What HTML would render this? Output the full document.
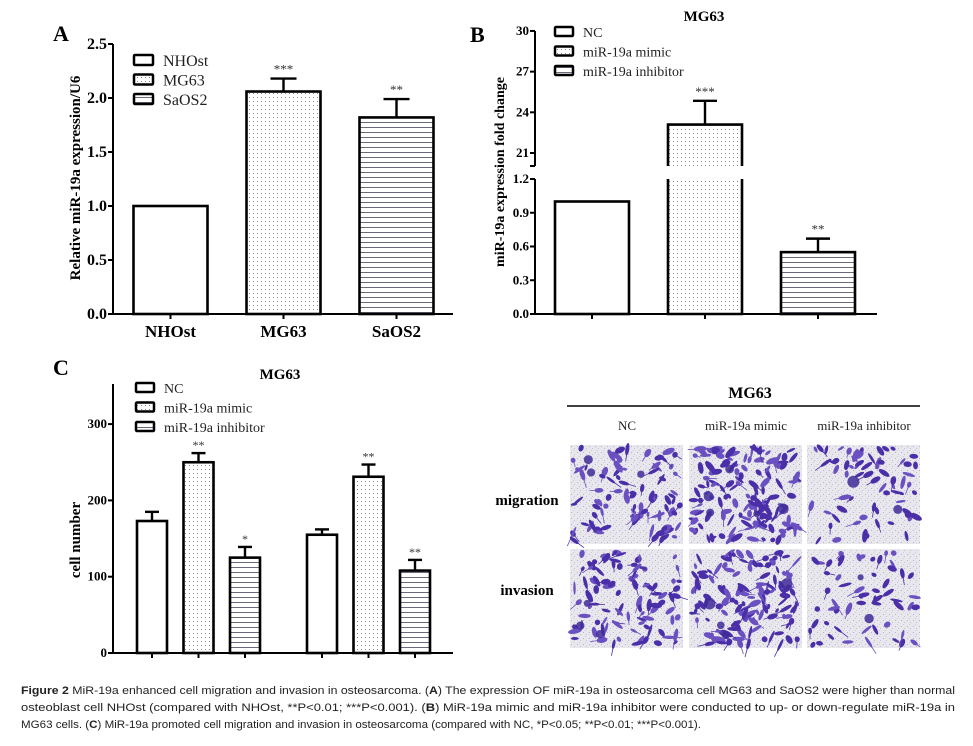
<!DOCTYPE html>
<html><head><meta charset="utf-8"><style>
html,body{margin:0;padding:0;background:#fff;}
svg{display:block;font-family:"Liberation Serif",serif;}
</style></head><body>
<svg id="fig" width="973" height="746" viewBox="0 0 973 746" xmlns="http://www.w3.org/2000/svg">
<defs>
<pattern id="dots" width="4" height="4" patternUnits="userSpaceOnUse"><rect width="4" height="4" fill="#fff"/><rect x="1" y="1" width="1" height="1" fill="#8a8a8a"/></pattern>
<pattern id="hlines" width="4" height="5" patternUnits="userSpaceOnUse"><rect width="4" height="5" fill="#fff"/><rect x="0" y="2" width="4" height="1" fill="#6a6a7a"/></pattern>
<pattern id="speck" width="6" height="6" patternUnits="userSpaceOnUse"><rect width="6" height="6" fill="#e9e7ee"/><rect x="1" y="2" width="1" height="1" fill="#b8b4c4"/><rect x="4" y="4" width="1" height="1" fill="#c4c0ce"/><rect x="3" y="0" width="1" height="1" fill="#cfcbd8"/></pattern>
</defs>
<g id="gA"></g>
<g id="gB"></g>
<g id="gC"></g>
<g id="gImg"></g>
<g font-family="'Liberation Sans',sans-serif" font-size="11" fill="#222">
<text x="21" y="694" textLength="934" lengthAdjust="spacingAndGlyphs"><tspan font-weight="bold">Figure 2</tspan> MiR-19a enhanced cell migration and invasion in osteosarcoma. (<tspan font-weight="bold">A</tspan>) The expression OF miR-19a in osteosarcoma cell MG63 and SaOS2 were higher than normal</text>
<text x="21" y="711" textLength="934" lengthAdjust="spacingAndGlyphs">osteoblast cell NHOst (compared with NHOst, **P&lt;0.01; ***P&lt;0.001). (<tspan font-weight="bold">B</tspan>) MiR-19a mimic and miR-19a inhibitor were conducted to up- or down-regulate miR-19a in</text>
<text x="21" y="728" textLength="680" lengthAdjust="spacingAndGlyphs">MG63 cells. (<tspan font-weight="bold">C</tspan>) MiR-19a promoted cell migration and invasion in osteosarcoma (compared with NC, *P&lt;0.05; **P&lt;0.01; ***P&lt;0.001).</text>
</g>
</svg>
<script>
// ---- Panel A data ----
const aCategories = ["NHOst","MG63","SaOS2"];
const aValues = [1.0, 2.06, 1.82];
const aErrors = [0, 0.12, 0.17];
const aStars = ["", "***", "**"];
const aTicks = [0,0.5,1.0,1.5,2.0,2.5];
// ---- Panel B data ----
const bCategories = ["NC","miR-19a mimic","miR-19a inhibitor"];
const bValues = [1.0, 23.1, 0.55];
const bErrors = [0, 1.75, 0.12];
const bStars = ["", "***", "**"];
const bTicksLow = [0,0.3,0.6,0.9,1.2];
const bTicksHigh = [21,24,27,30];
// ---- Panel C data ----
const cGroups = ["migration","invasion"];
const cSeries = ["NC","miR-19a mimic","miR-19a inhibitor"];
const cNC = [173, 155];
const cMimic = [250, 231];
const cInhib = [125, 108];
const cErrNC = [12, 7];
const cErrMimic = [12, 16];
const cErrInhib = [14, 14];
const cStarsMimic = ["**","**"];
const cStarsInhib = ["*","**"];
const cStarsNC = ["",""];
const cTicks = [0,100,200,300];

const NS="http://www.w3.org/2000/svg";
const SW=2.6, EW=2.4;
function mk(parent,tag,attrs,txt){const e=document.createElementNS(NS,tag);for(const k in attrs)e.setAttribute(k,attrs[k]);if(txt!==undefined)e.textContent=txt;parent.appendChild(e);return e;}
const fills=["#fff","url(#dots)","url(#hlines)"];

// ---------- Panel A ----------
(function(){
const g=document.getElementById('gA');
const yA=v=>314-v*108;
const xA=i=>170.5+i*113;
let t=mk(g,'text',{x:53,y:41,'font-size':22,'font-weight':'bold'},'A');


let ax=mk(g,'path',{d:'M113 44 V314 H453',stroke:'#000','stroke-width':2,fill:'none'});


aTicks.forEach(v=>{
 mk(g,'line',{x1:108,x2:113,y1:yA(v),y2:yA(v),stroke:'#000','stroke-width':2});
 let l=mk(g,'text',{x:107,y:yA(v)+5,'text-anchor':'end','font-size':16,'font-weight':'bold'},v.toFixed(1));
 
 
});
let yt=mk(g,'text',{transform:'translate(80,178) rotate(-90)','text-anchor':'middle','font-size':15,'font-weight':'bold'},'Relative miR-19a expression/U6');


aCategories.forEach((c,i)=>{
 const cx=xA(i);
 mk(g,'line',{x1:cx,x2:cx,y1:314,y2:319,stroke:'#000','stroke-width':2});
 let xl=mk(g,'text',{x:cx,y:337,'text-anchor':'middle','font-size':17,'font-weight':'bold'},c);
 
 
 if(aErrors[i]>0){
  mk(g,'line',{x1:cx,x2:cx,y1:yA(aValues[i]),y2:yA(aValues[i]+aErrors[i]),stroke:'#000','stroke-width':EW});
  mk(g,'line',{x1:cx-13,x2:cx+13,y1:yA(aValues[i]+aErrors[i]),y2:yA(aValues[i]+aErrors[i]),stroke:'#000','stroke-width':EW});
 }
 let b=mk(g,'rect',{x:cx-37,y:yA(aValues[i]),width:74,height:314-yA(aValues[i]),fill:fills[i],stroke:'#000','stroke-width':SW});
 
 
 if(aStars[i]){let s=mk(g,'text',{x:cx,y:yA(aValues[i]+aErrors[i])-5,'text-anchor':'middle','font-size':13,fill:'#333'},aStars[i]);
 
 }
 let lb=mk(g,'rect',{x:134,y:55+i*19.5,width:19,height:10,fill:fills[i],stroke:'#000','stroke-width':2.5,rx:1});
 
 
 let lt=mk(g,'text',{x:163,y:66+i*19.5,'font-size':16,fill:'#222'},c);
 
 
});
})();

// ---------- Panel B ----------
(function(){
const g=document.getElementById('gB');
const yL=v=>314-v*112.5;
const yU=v=>153-(v-21)*13.56;
const xB=i=>592+i*113;
let t=mk(g,'text',{x:470,y:42,'font-size':22,'font-weight':'bold'},'B');


let ttl=mk(g,'text',{x:704,y:21,'text-anchor':'middle','font-size':15,'font-weight':'bold'},'MG63');


let ax=mk(g,'path',{d:'M535 31 V166 M530 166 H535 M530 179 H535 M535 179 V314 H877',stroke:'#000','stroke-width':2,fill:'none'});


bTicksLow.forEach(v=>{
 mk(g,'line',{x1:530,x2:535,y1:yL(v),y2:yL(v),stroke:'#000','stroke-width':2});
 let l=mk(g,'text',{x:529,y:yL(v)+4,'text-anchor':'end','font-size':13,'font-weight':'bold'},v.toFixed(1));
 
 
});
bTicksHigh.forEach(v=>{
 mk(g,'line',{x1:530,x2:535,y1:yU(v),y2:yU(v),stroke:'#000','stroke-width':2});
 let l=mk(g,'text',{x:529,y:yU(v)+4,'text-anchor':'end','font-size':13,'font-weight':'bold'},String(v));
 
 
});
let yt=mk(g,'text',{transform:'translate(504,172) rotate(-90)','text-anchor':'middle','font-size':14,'font-weight':'bold'},'miR-19a expression fold change');


bCategories.forEach((c,i)=>{
 const cx=xB(i), v=bValues[i], e=bErrors[i];
 mk(g,'line',{x1:cx,x2:cx,y1:314,y2:319,stroke:'#000','stroke-width':2});
 const hi=v>1.2;
 const top=hi?yU(v):yL(v), etop=hi?yU(v+e):yL(v+e);
 if(e>0){
  mk(g,'line',{x1:cx,x2:cx,y1:top,y2:etop,stroke:'#000','stroke-width':EW});
  mk(g,'line',{x1:cx-12,x2:cx+12,y1:etop,y2:etop,stroke:'#000','stroke-width':EW});
 }
 if(hi){
  let b1=mk(g,'path',{d:`M${cx-37} 166 V${top} H${cx+37} V166`,fill:fills[i],stroke:'#000','stroke-width':SW});
  
  
  let b2=mk(g,'path',{d:`M${cx-37} 179 V314 H${cx+37} V179`,fill:fills[i],stroke:'#000','stroke-width':SW});
  
  
 } else {
  let b=mk(g,'rect',{x:cx-37,y:top,width:74,height:314-top,fill:fills[i],stroke:'#000','stroke-width':SW});
  
  
 }
 if(bStars[i]){let s=mk(g,'text',{x:cx,y:etop-5,'text-anchor':'middle','font-size':13,fill:'#333'},bStars[i]);
 
 }
 let lb=mk(g,'rect',{x:555,y:27+i*19.5,width:18,height:9,fill:fills[i],stroke:'#000','stroke-width':2.5,rx:1});
 
 
 let lt=mk(g,'text',{x:583,y:37+i*19.5,'font-size':14,fill:'#222'},c);
 
 
});
})();

// ---------- Panel C ----------
(function(){
const g=document.getElementById('gC');
const yC=v=>653-v*0.763;
const xC=(gi,si)=>152+gi*170+si*46.5;
let t=mk(g,'text',{x:53,y:375,'font-size':22,'font-weight':'bold'},'C');


let ttl=mk(g,'text',{x:280,y:379,'text-anchor':'middle','font-size':15,'font-weight':'bold'},'MG63');


let ax=mk(g,'path',{d:'M113 384 V653 H453',stroke:'#000','stroke-width':2,fill:'none'});


cTicks.forEach(v=>{
 mk(g,'line',{x1:108,x2:113,y1:yC(v),y2:yC(v),stroke:'#000','stroke-width':2});
 let l=mk(g,'text',{x:107,y:yC(v)+4,'text-anchor':'end','font-size':13,'font-weight':'bold'},String(v));
 
 
});
let yt=mk(g,'text',{transform:'translate(80,540) rotate(-90)','text-anchor':'middle','font-size':15,'font-weight':'bold'},'cell number');


const vals=[cNC,cMimic,cInhib], errs=[cErrNC,cErrMimic,cErrInhib], stars=[cStarsNC,cStarsMimic,cStarsInhib];
cGroups.forEach((gr,gi)=>{
 cSeries.forEach((s,si)=>{
  const cx=xC(gi,si), v=vals[si][gi], e=errs[si][gi];
  mk(g,'line',{x1:cx,x2:cx,y1:653,y2:658,stroke:'#000','stroke-width':2});
  mk(g,'line',{x1:cx,x2:cx,y1:yC(v),y2:yC(v+e),stroke:'#000','stroke-width':EW});
  mk(g,'line',{x1:cx-7,x2:cx+7,y1:yC(v+e),y2:yC(v+e),stroke:'#000','stroke-width':EW});
  let b=mk(g,'rect',{x:cx-15,y:yC(v),width:30,height:653-yC(v),fill:fills[si],stroke:'#000','stroke-width':SW});
  
  
  if(stars[si][gi]){let st=mk(g,'text',{x:cx,y:yC(v+e)-4,'text-anchor':'middle','font-size':12,fill:'#333'},stars[si][gi]);
  
  }
 });
});
cSeries.forEach((s,i)=>{
 let lb=mk(g,'rect',{x:136,y:383+i*19.5,width:18,height:9,fill:fills[i],stroke:'#000','stroke-width':2.5,rx:1});
 
 
 let lt=mk(g,'text',{x:164,y:393+i*19.5,'font-size':14,fill:'#222'},s);
 
 
});
})();

// ---------- Microscopy images (decorative) ----------
(function(){
const g=document.getElementById('gImg');
let ttl=mk(g,'text',{x:750,y:398,'text-anchor':'middle','font-size':16,'font-weight':'bold'},'MG63');


mk(g,'line',{x1:567,x2:920,y1:406,y2:406,stroke:'#000','stroke-width':1.5});
const cols=["NC","miR-19a mimic","miR-19a inhibitor"];
const colX=[570,689,807];
const rowY=[445,549];
const rows=["migration","invasion"];
const dens=[[1,1.5,0.7],[1,1.4,0.6]];
cols.forEach((c,i)=>{let l=mk(g,'text',{x:colX[i]+57,y:430,'text-anchor':'middle','font-size':13,fill:'#222'},c);
 
 });
rows.forEach((r,j)=>{let l=mk(g,'text',{x:527,y:rowY[j]+60+(j?-14:0),'text-anchor':'middle','font-size':15,'font-weight':'bold'},r);
 
 });
let seed=7;const rnd=()=>{seed=(seed*16807)%2147483647;return seed/2147483647;};
rows.forEach((r,j)=>cols.forEach((c,i)=>{
 const x0=colX[i],y0=rowY[j],w=113,h=99;
 const p=mk(g,'g',{});
 
 
 mk(p,'rect',{x:x0,y:y0,width:w,height:h,fill:'url(#speck)'});
 const n=Math.round(95*dens[j][i]);
 for(let k=0;k<n;k++){
  const cx=x0+3+rnd()*(w-6),cy=y0+3+rnd()*(h-6),a=rnd()*180,rx=2.5+rnd()*4.5,ry=1.2+rnd()*1.8;
  const col=rnd()<0.55?'#4a2fa8':'#6a50c0';
  mk(p,'ellipse',{cx:cx.toFixed(1),cy:cy.toFixed(1),rx:rx.toFixed(1),ry:ry.toFixed(1),fill:col,transform:`rotate(${a.toFixed(0)} ${cx.toFixed(1)} ${cy.toFixed(1)})`});
  if(rnd()<0.4){const l=3+rnd()*5, ang=a*Math.PI/180;
   mk(p,'line',{x1:cx.toFixed(1),y1:cy.toFixed(1),x2:(cx+Math.cos(ang)*(rx+l)).toFixed(1),y2:(cy+Math.sin(ang)*(rx+l)).toFixed(1),stroke:col,'stroke-width':0.8});}
 }
 // dense cluster spots
 const nc=Math.round(3*dens[j][i]);
 for(let k=0;k<nc;k++){
  const cx=x0+10+rnd()*(w-20),cy=y0+10+rnd()*(h-20);
  mk(p,'circle',{cx:cx.toFixed(1),cy:cy.toFixed(1),r:(3+rnd()*3).toFixed(1),fill:'#3f2a98','fill-opacity':0.85});
 }
}));
})();
</script>
</body></html>
